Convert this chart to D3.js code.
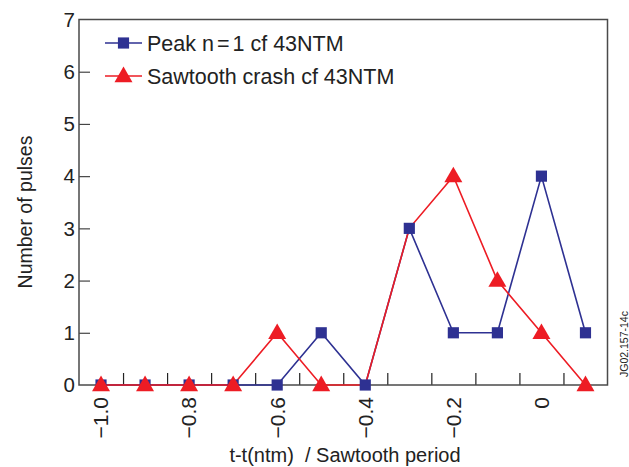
<!DOCTYPE html>
<html>
<head>
<meta charset="utf-8">
<script src="https://cdn.jsdelivr.net/npm/d3@7/dist/d3.min.js"></script>
<style>
  html, body { margin: 0; padding: 0; background: #fff; }
  svg { display: block; font-family: "Liberation Sans", Arial, Helvetica, sans-serif; }
</style>
</head>
<body>
<svg id="chart" width="629" height="467"></svg>
<script>
// Time relative to NTM onset, in sawtooth periods
const times = [-1.0, -0.9, -0.8, -0.7, -0.6, -0.5, -0.4, -0.3, -0.2, -0.1, 0.0, 0.1];
// Number of pulses: peak n=1 amplitude and sawtooth crash, relative to the 4/3 NTM
const peakCounts  = [0, 0, 0, 0, 0, 1, 0, 3, 1, 1, 4, 1];
const crashCounts = [0, 0, 0, 0, 1, 0, 0, 3, 4, 2, 1, 0];
// Sawtooth crash points that carry a marker
const crashMarked = [true, true, true, true, true, true, false, false, true, true, true, true];

const xLabelValues = [-1.0, -0.8, -0.6, -0.4, -0.2, 0];
const xTickValues  = [-0.95, -0.85, -0.75, -0.65, -0.55, -0.45, -0.35, -0.25, -0.15, -0.05, 0.05];
const yTickValues  = [0, 1, 2, 3, 4, 5, 6, 7];

const seriesNames = ["Peak n=1 cf 43NTM", "Sawtooth crash cf 43NTM"];
const BLUE = "#2e3192", RED = "#ed1c24", FRAME = "#4a4a4a";

const svg = d3.select("#chart");
const m = { left: 79, right: 629 - 607.5, top: 19.5, bottom: 467 - 385 };
const W = 629 - m.left - m.right, H = 467 - m.top - m.bottom;

const x = d3.scaleLinear().domain([-1.05, 0.15]).range([m.left, m.left + W]);
const y = d3.scaleLinear().domain([0, 7]).range([m.top + H, m.top]);

const g = svg.append("g");

// inward tick marks on the bottom axis (half-step positions, no labels)
const xAxis = d3.axisTop(x).tickValues(xTickValues).tickSize(12).tickFormat("");
g.append("g").attr("transform", `translate(0,${y(0)})`).call(xAxis)
  .call(s => s.select(".domain").remove())
  .call(s => s.selectAll("line").attr("stroke", "#222").attr("stroke-width", 1.2));

// rotated value labels under the axis
const fmtX = v => v === 0 ? "0" : d3.format(".1f")(v).replace("-", "\u2212");
g.append("g").selectAll("text").data(xLabelValues).join("text")
  .attr("transform", d => `translate(${x(d)},397) rotate(-90)`)
  .attr("text-anchor", "end").attr("dy", "0.35em")
  .attr("font-size", 21).attr("fill", "#222")
  .text(fmtX);

// left axis: inward ticks with labels outside
const yAxis = d3.axisRight(y).tickValues(yTickValues.filter(v => v > 0 && v < 7)).tickSize(11).tickFormat("");
g.append("g").attr("transform", `translate(${x(-1.05)},0)`).call(yAxis)
  .call(s => s.select(".domain").remove())
  .call(s => s.selectAll("line").attr("stroke", "#444").attr("stroke-width", 1.2));
g.append("g").selectAll("text").data(yTickValues).join("text")
  .attr("x", m.left - 4).attr("y", d => y(d)).attr("dy", "0.35em")
  .attr("text-anchor", "end").attr("font-size", 20.5).attr("fill", "#222")
  .text(d => d);

// frame
svg.append("rect").attr("x", m.left).attr("y", m.top).attr("width", W).attr("height", H)
  .attr("fill", "none").attr("stroke", FRAME).attr("stroke-width", 1.5);

// axis titles
svg.append("text").attr("transform", `translate(32,212) rotate(-90)`)
  .attr("text-anchor", "middle").attr("font-size", 19.5).attr("fill", "#222")
  .text("Number of pulses");
svg.append("text").attr("x", 345).attr("y", 462)
  .attr("text-anchor", "middle").attr("font-size", 20).attr("fill", "#222")
  .attr("xml:space", "preserve")
  .text("t-t(ntm)  / Sawtooth period");

// figure reference
svg.append("text").attr("transform", `translate(628,377) rotate(-90)`)
  .attr("text-anchor", "start").attr("font-size", 10.5).attr("fill", "#222")
  .text("JG02.157-14c");

// series
const line = d3.line().x(d => x(d[0])).y(d => y(d[1]));
const peak = times.map((t, i) => [t, peakCounts[i]]);
const crash = times.map((t, i) => [t, crashCounts[i]]);

const sq = d3.symbol().type(d3.symbolSquare).size(125);
const tri = d3.symbol().type(d3.symbolTriangle).size(140);

svg.append("path").attr("d", line(peak)).attr("fill", "none").attr("stroke", BLUE).attr("stroke-width", 1.6);
svg.append("path").attr("d", line(crash)).attr("fill", "none").attr("stroke", RED).attr("stroke-width", 1.6);

svg.append("g").selectAll("path").data(peak).join("path")
  .attr("d", sq).attr("fill", BLUE)
  .attr("transform", d => `translate(${x(d[0])},${y(d[1])})`);
svg.append("g").selectAll("path").data(crash.filter((d, i) => crashMarked[i])).join("path")
  .attr("d", tri).attr("fill", RED)
  .attr("transform", d => `translate(${x(d[0])},${y(d[1]) + 1})`);

// legend
const legend = svg.append("g");
const rows = [{ name: seriesNames[0], color: BLUE, sym: sq }, { name: seriesNames[1], color: RED, sym: tri }];
rows.forEach((r, i) => {
  const ly = 43 + i * 33;
  legend.append("line").attr("x1", 105).attr("x2", 142).attr("y1", ly).attr("y2", ly)
    .attr("stroke", r.color).attr("stroke-width", 1.6);
  legend.append("path").attr("d", r.sym).attr("fill", r.color)
    .attr("transform", `translate(123.5,${ly + (i ? 1 : 0)})`);
  const t = legend.append("text").attr("x", 147).attr("y", ly).attr("dy", "0.36em")
    .attr("font-size", 21.5).attr("fill", "#222");
  // the equals sign is set with a little extra room on each side
  const parts = r.name.split("=");
  if (parts.length === 2) {
    t.append("tspan").text(parts[0]);
    t.append("tspan").attr("dx", 3).text("=");
    t.append("tspan").attr("dx", 3).text(parts[1]);
  } else {
    t.text(r.name);
  }
});
</script>
</body>
</html>
